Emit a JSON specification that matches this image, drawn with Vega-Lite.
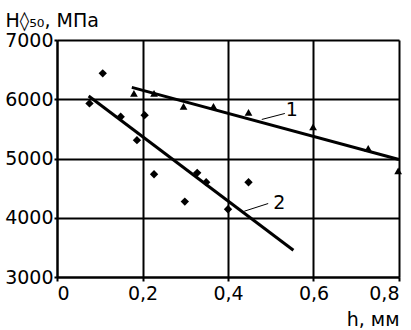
{
  "$schema": "https://vega.github.io/schema/vega-lite/v6.json",
  "width": 342,
  "height": 237,
  "autosize": {"type": "none"},
  "padding": {"left": 57, "top": 40, "right": 12, "bottom": 53},
  "background": "white",
  "config": {
    "view": {"stroke": null},
    "font": "DejaVu Sans",
    "axis": {
      "labelFont": "DejaVu Sans",
      "titleFont": "DejaVu Sans",
      "labelFontSize": 19,
      "titleFontSize": 19,
      "labelColor": "#000",
      "titleColor": "#000",
      "titleFontWeight": "normal",
      "gridColor": "#000",
      "gridWidth": 2,
      "gridOpacity": 1,
      "domainColor": "#000",
      "domainWidth": 2,
      "tickColor": "#000",
      "tickWidth": 2
    }
  },
  "datasets": {
    "tri": [
      {"h": 0.18, "H": 6100},
      {"h": 0.227, "H": 6100},
      {"h": 0.296, "H": 5880},
      {"h": 0.366, "H": 5880},
      {"h": 0.448, "H": 5780},
      {"h": 0.599, "H": 5535},
      {"h": 0.728, "H": 5170},
      {"h": 0.798, "H": 4790}
    ],
    "dia": [
      {"h": 0.076, "H": 5930},
      {"h": 0.107, "H": 6437},
      {"h": 0.149, "H": 5704},
      {"h": 0.187, "H": 5310},
      {"h": 0.205, "H": 5732},
      {"h": 0.227, "H": 4735},
      {"h": 0.299, "H": 4273},
      {"h": 0.328, "H": 4758},
      {"h": 0.349, "H": 4600},
      {"h": 0.4, "H": 4144},
      {"h": 0.448, "H": 4600}
    ],
    "fits": [
      {"s": "1", "h": 0.175, "H": 6200},
      {"s": "1", "h": 0.8, "H": 4983},
      {"s": "2", "h": 0.074, "H": 6054},
      {"s": "2", "h": 0.553, "H": 3451}
    ],
    "leaders": [
      {"s": "1", "h": 0.479, "H": 5659},
      {"s": "1", "h": 0.533, "H": 5760},
      {"s": "2", "h": 0.438, "H": 4110},
      {"s": "2", "h": 0.494, "H": 4240}
    ],
    "labels": [
      {"t": "1", "h": 0.549, "H": 5817},
      {"t": "2", "h": 0.52, "H": 4251}
    ]
  },
  "layer": [
    {
      "data": {"name": "fits"},
      "mark": {"type": "line", "color": "#000", "strokeWidth": 3},
      "encoding": {
        "x": {
          "field": "h", "type": "quantitative",
          "scale": {"domain": [0, 0.8], "nice": false},
          "axis": {
            "values": [0, 0.2, 0.4, 0.6, 0.8],
            "labelExpr": "datum.value == 0 ? '0' : replace(format(datum.value, '.1f'), '.', ',')",
            "tickSize": 4,
            "labelPadding": 3,
            "title": "h, мм",
            "titleAnchor": "end",
            "titleAlign": "right",
            "titleX": 342,
            "titleY": 48,
            "titleBaseline": "alphabetic"
          }
        },
        "y": {
          "field": "H", "type": "quantitative",
          "scale": {"domain": [3000, 7000], "nice": false, "zero": false},
          "axis": {
            "values": [3000, 3500, 4000, 4500, 5000, 5500, 6000, 6500, 7000],
            "labelExpr": "datum.value % 1000 == 0 ? format(datum.value, 'd') : ''",
            "tickSize": 3,
            "labelPadding": 1,
            "title": "H◊₅₀, МПа",
            "titleAngle": 0,
            "titleAlign": "left",
            "titleAnchor": "start",
            "titleX": -52,
            "titleY": -14,
            "titleBaseline": "alphabetic"
          }
        },
        "detail": {"field": "s"}
      }
    },
    {
      "data": {"name": "leaders"},
      "mark": {"type": "line", "color": "#000", "strokeWidth": 1},
      "encoding": {
        "x": {"field": "h", "type": "quantitative"},
        "y": {"field": "H", "type": "quantitative"},
        "detail": {"field": "s"}
      }
    },
    {
      "data": {"name": "tri"},
      "mark": {"type": "point", "shape": "triangle-up", "filled": true, "color": "#000", "opacity": 1, "size": 60},
      "encoding": {
        "x": {"field": "h", "type": "quantitative"},
        "y": {"field": "H", "type": "quantitative"}
      }
    },
    {
      "data": {"name": "dia"},
      "mark": {"type": "point", "shape": "diamond", "filled": true, "color": "#000", "opacity": 1, "size": 70},
      "encoding": {
        "x": {"field": "h", "type": "quantitative"},
        "y": {"field": "H", "type": "quantitative"}
      }
    },
    {
      "data": {"name": "labels"},
      "mark": {"type": "text", "fontSize": 19, "font": "DejaVu Sans", "color": "#000"},
      "encoding": {
        "x": {"field": "h", "type": "quantitative"},
        "y": {"field": "H", "type": "quantitative"},
        "text": {"field": "t"}
      }
    }
  ]
}
